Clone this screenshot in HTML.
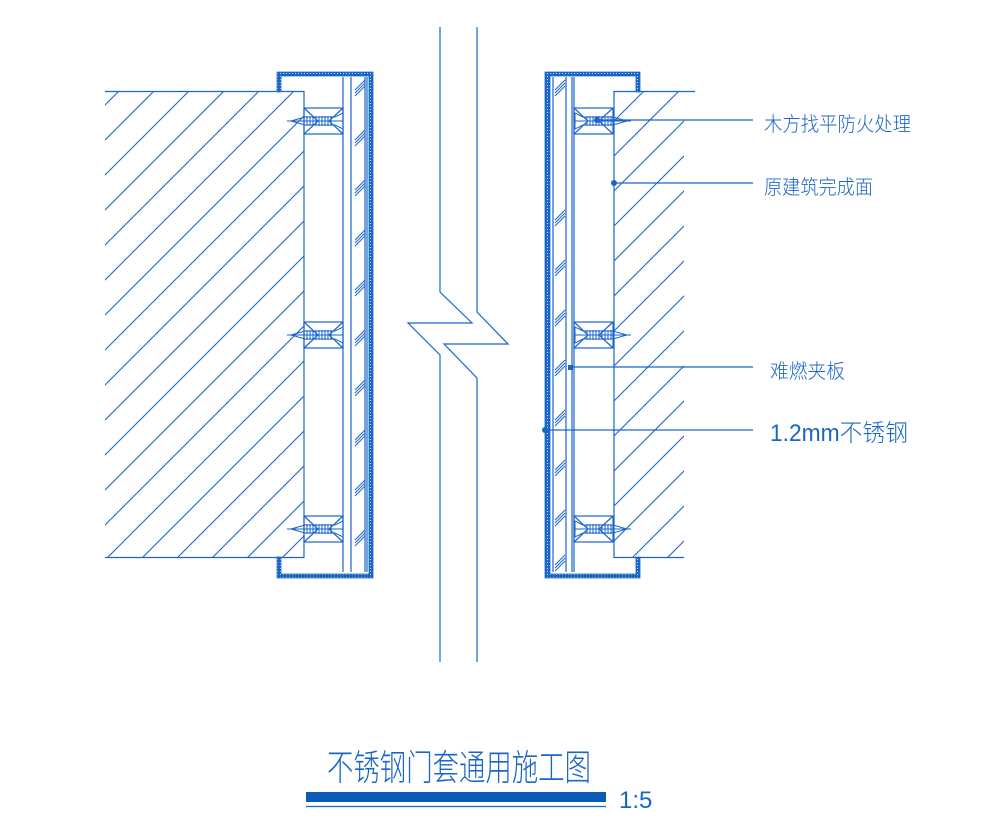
<!DOCTYPE html>
<html><head><meta charset="utf-8"><style>
html,body{margin:0;padding:0;background:#fff;}
svg{display:block;}
text{font-family:"Liberation Sans","Noto Sans CJK SC",sans-serif;fill:#1a66c8;font-weight:300;}
</style></head><body>
<svg width="981" height="825" viewBox="0 0 981 825" xmlns="http://www.w3.org/2000/svg">
<defs>
<pattern id="hat" patternUnits="userSpaceOnUse" width="35" height="35">
<line x1="0" y1="35" x2="35" y2="0" stroke="#1a66c8" stroke-width="1.1"/>
<line x1="-5" y1="5" x2="5" y2="-5" stroke="#1a66c8" stroke-width="1.1"/>
<line x1="30" y1="40" x2="40" y2="30" stroke="#1a66c8" stroke-width="1.1"/>
</pattern>
<pattern id="ss" patternUnits="userSpaceOnUse" width="3" height="3">
<rect width="3" height="3" fill="#1a66c8"/><rect x="1" y="1" width="1" height="1" fill="#cfe0f5"/>
</pattern>
<g id="screw" stroke="#1a66c8" stroke-width="1" fill="none">
<line x1="0" y1="0" x2="56" y2="0"/>
<path d="M4 0 L18 -4 L48 -4 L56 -8 L56 8 L48 4 L18 4 Z"/>
<path d="M20 -5 V5 M23 -5 V5 M26 -5 V5 M29 -5 V5 M32 -5 V5 M35 -5 V5 M38 -5 V5 M41 -5 V5 M44 -5 V5"/>
</g>
<g id="block" stroke="#1a66c8" stroke-width="1.2" fill="none">
<rect x="0" y="0" width="39" height="26"/>
<path d="M0 0 L14 13 L0 26 M39 0 L25 13 L39 26"/>
</g>
<g id="tick" stroke="#1a66c8" stroke-width="1">
<line x1="0" y1="10" x2="10" y2="0"/><line x1="0" y1="13" x2="10" y2="3"/><line x1="0" y1="16" x2="10" y2="6"/>
</g>
</defs>
<g stroke="#1a66c8" stroke-width="1.2" fill="none">
<rect x="105" y="92" width="199" height="465" fill="url(#hat)" stroke="none"/>
<line x1="105" y1="91.5" x2="304" y2="91.5"/>
<line x1="105" y1="557.5" x2="304" y2="557.5"/>
<line x1="304" y1="91" x2="304" y2="558"/>
<rect x="614" y="92" width="70" height="465" fill="url(#hat)" stroke="none"/>
<line x1="614" y1="91.5" x2="695" y2="91.5"/>
<line x1="614" y1="557.5" x2="684" y2="557.5"/>
<line x1="614" y1="91" x2="614" y2="558"/>
<path d="M440 27 V292 L472 323 H408 L440 355 V662"/>
<path d="M477 27 V312 L508 344 H444 L477 378 V662"/>
<line x1="343" y1="77" x2="343" y2="572"/>
<line x1="351" y1="77" x2="351" y2="572"/>
<line x1="365" y1="77" x2="365" y2="572"/>
<line x1="367" y1="77" x2="367" y2="572"/>
<line x1="553" y1="77" x2="553" y2="572"/>
<line x1="566" y1="77" x2="566" y2="572"/>
<line x1="572" y1="77" x2="572" y2="572"/>
<line x1="574" y1="77" x2="574" y2="572"/>
</g>
<path d="M277 72 H373 V578 H277 V557 H281 V574 H369 V76 H281 V92 H277 Z" fill="url(#ss)" stroke="#1a66c8" stroke-width="0.8"/>
<path d="M545 72 H640 V92 H636 V76 H550 V574 H636 V557 H640 V578 H545 Z" fill="url(#ss)" stroke="#1a66c8" stroke-width="0.8"/>
<g>
<use href="#tick" x="355" y="80"/><use href="#tick" x="355" y="130"/><use href="#tick" x="355" y="180"/><use href="#tick" x="355" y="230"/><use href="#tick" x="355" y="280"/><use href="#tick" x="355" y="330"/><use href="#tick" x="355" y="380"/><use href="#tick" x="355" y="430"/><use href="#tick" x="355" y="480"/><use href="#tick" x="355" y="530"/>
<use href="#tick" x="555" y="80"/><use href="#tick" x="555" y="210"/><use href="#tick" x="555" y="260"/><use href="#tick" x="555" y="310"/><use href="#tick" x="555" y="360"/><use href="#tick" x="555" y="410"/><use href="#tick" x="555" y="460"/><use href="#tick" x="555" y="510"/><use href="#tick" x="555" y="555"/>
</g>
<use href="#block" x="304" y="108"/><use href="#block" x="304" y="322"/><use href="#block" x="304" y="516"/>
<use href="#screw" x="287" y="121"/><use href="#screw" x="287" y="335"/><use href="#screw" x="287" y="529"/>
<use href="#block" x="574" y="108"/><use href="#block" x="574" y="322"/><use href="#block" x="574" y="516"/>
<g transform="translate(631,0) scale(-1,1)"><use href="#screw" x="0" y="121"/><use href="#screw" x="0" y="335"/><use href="#screw" x="0" y="529"/></g>
<g stroke="#1a66c8" stroke-width="1.2">
<line x1="597" y1="120" x2="753" y2="120"/>
<line x1="614" y1="183" x2="753" y2="183"/>
<line x1="570" y1="367" x2="753" y2="367"/>
<line x1="545" y1="430" x2="753" y2="430"/>
</g>
<g fill="#1a66c8"><circle cx="597" cy="120" r="3"/><circle cx="614" cy="183" r="3"/><rect x="568" y="365" width="5" height="5"/><circle cx="545" cy="430" r="3"/></g>
<text x="764" y="131" font-size="20" textLength="147" lengthAdjust="spacingAndGlyphs">木方找平防火处理</text>
<text x="764" y="194" font-size="20" textLength="109" lengthAdjust="spacingAndGlyphs">原建筑完成面</text>
<text x="770" y="378" font-size="20" textLength="75" lengthAdjust="spacingAndGlyphs">难燃夹板</text>
<text x="770" y="441" font-size="24" textLength="138" lengthAdjust="spacingAndGlyphs">1.2mm不锈钢</text>
<text x="327" y="780" font-size="36" textLength="264" lengthAdjust="spacingAndGlyphs">不锈钢门套通用施工图</text>
<rect x="306" y="792" width="300" height="10" fill="#0a5cb8"/>
<line x1="306" y1="806.5" x2="606" y2="806.5" stroke="#1a66c8" stroke-width="1.2"/>
<text x="619" y="808" font-size="24">1:5</text>
</svg>
</body></html>
